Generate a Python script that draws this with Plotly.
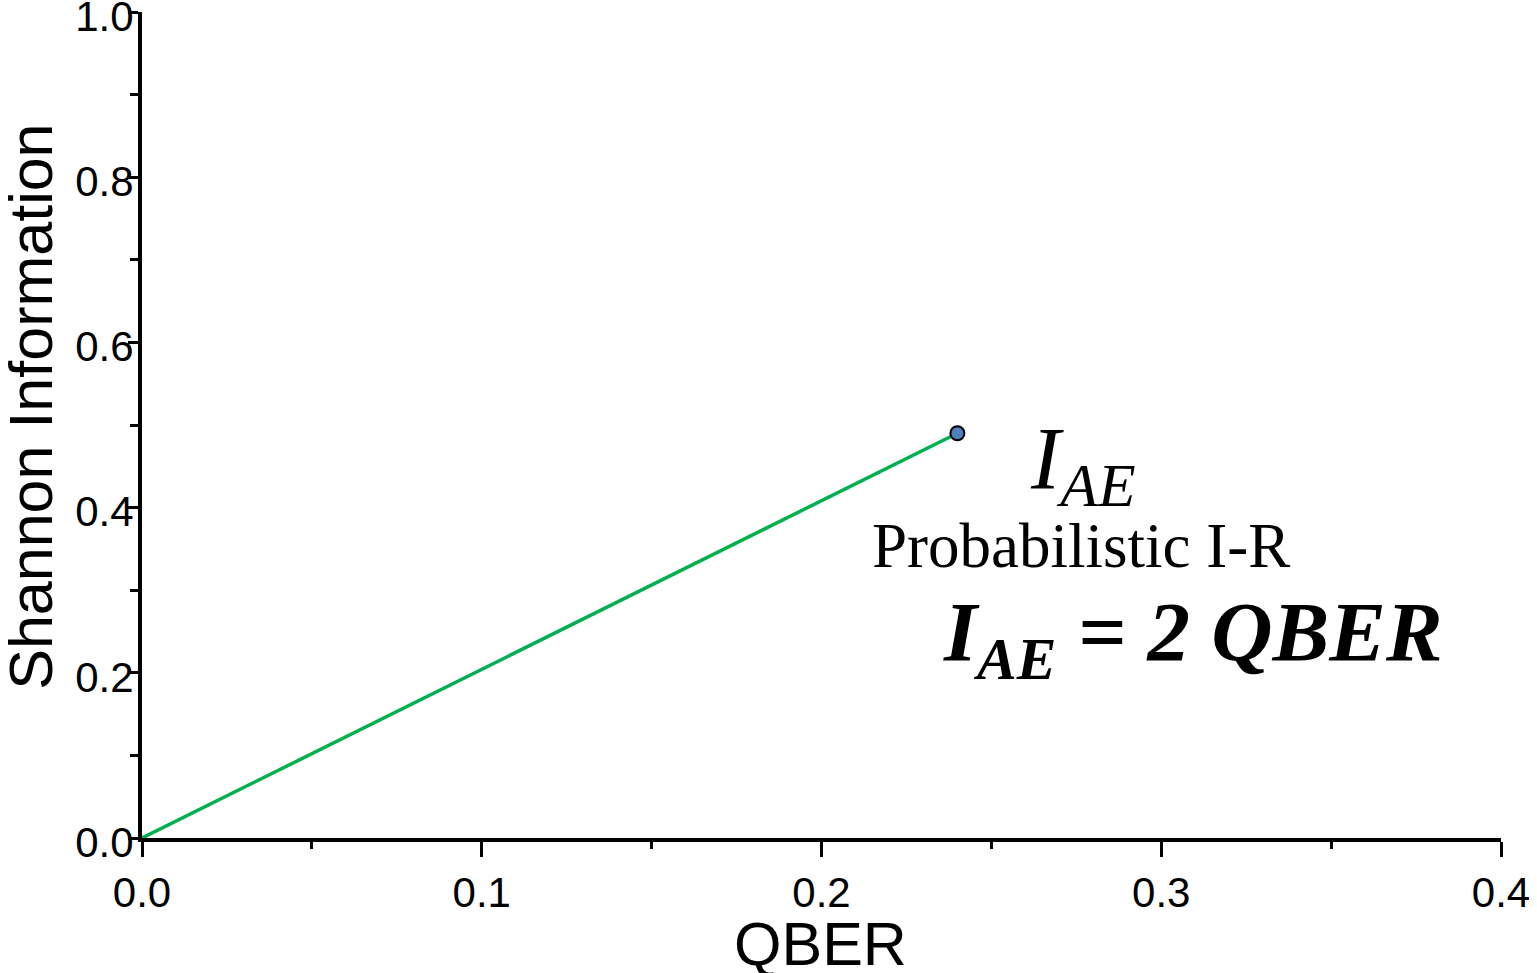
import plotly.graph_objects as go

# QBER vs. Shannon information gained by the eavesdropper
qber = [0.0, 0.24]
info_ae = [0.0, 0.49]

x_ticks = [0.0, 0.1, 0.2, 0.3, 0.4]
x_tick_text = ["0.0", "0.1", "0.2", "0.3", "0.4"]
y_ticks = [0.0, 0.2, 0.4, 0.6, 0.8, 1.0]
y_tick_text = ["0.0", "0.2", "0.4", "0.6", "0.8", "1.0"]

SANS = "Arial, Liberation Sans, sans-serif"
SERIF = "Times New Roman, Liberation Serif, serif"

fig = go.Figure()

fig.add_trace(go.Scatter(
    x=qber, y=info_ae, mode="lines",
    line=dict(color="#00b050", width=3.5),
    showlegend=False, hoverinfo="skip",
))
fig.add_trace(go.Scatter(
    x=qber[-1:], y=info_ae[-1:], mode="markers",
    marker=dict(size=14, color="#4f81bd", line=dict(color="black", width=2)),
    showlegend=False, cliponaxis=False,
))

fig.add_annotation(
    x=0.277, y=0.452, xref="x", yref="y",
    text="<i>I<sub>AE</sub></i>", showarrow=False,
    font=dict(family=SERIF, size=88, color="black"),
    xanchor="center", yanchor="middle",
)
fig.add_annotation(
    x=0.2765, y=0.353, xref="x", yref="y",
    text="Probabilistic I-R", showarrow=False,
    font=dict(family=SERIF, size=63, color="black"),
    xanchor="center", yanchor="middle",
)
fig.add_annotation(
    x=0.3094, y=0.242, xref="x", yref="y",
    text="<b><i>I<sub>AE</sub> = 2 QBER</i></b>", showarrow=False,
    font=dict(family=SERIF, size=85, color="black"),
    xanchor="center", yanchor="middle",
)

# axis titles, placed as annotations
fig.add_annotation(
    x=-0.0817, y=0.522, xref="paper", yref="paper",
    text="Shannon Information", showarrow=False, textangle=-90,
    font=dict(family=SANS, size=61, color="black"),
    xanchor="center", yanchor="middle",
)
fig.add_annotation(
    x=0.4989, y=-0.1284, xref="paper", yref="paper",
    text="QBER", showarrow=False,
    font=dict(family=SANS, size=61, color="black"),
    xanchor="center", yanchor="middle",
)

fig.update_layout(
    width=1537, height=973,
    margin=dict(l=142, r=36, t=12, b=135),
    plot_bgcolor="white", paper_bgcolor="white",
    font=dict(family=SANS, color="black"),
)

fig.update_xaxes(
    range=[0, 0.4], tickvals=x_ticks, ticktext=x_tick_text,
    automargin=False,
    showgrid=False, zeroline=False,
    showline=True, linecolor="black", linewidth=4,
    ticks="outside", ticklen=15, tickwidth=3, tickcolor="black",
    minor=dict(dtick=0.05, ticks="outside", ticklen=7, tickwidth=3, tickcolor="black"),
    tickfont=dict(family=SANS, size=42),
    ticklabeloverflow="allow",
)
fig.update_yaxes(
    range=[0, 1.0], tickvals=y_ticks, ticktext=y_tick_text,
    automargin=False,
    showgrid=False, zeroline=False,
    showline=True, linecolor="black", linewidth=4,
    ticks="outside", ticklen=10, tickwidth=3, tickcolor="black",
    minor=dict(dtick=0.1, ticks="outside", ticklen=8, tickwidth=3, tickcolor="black"),
    tickfont=dict(family=SANS, size=42),
    ticklabelstandoff=-14,
    ticklabelshift=4,
    ticklabeloverflow="allow",
)

fig.write_html("out.html")
